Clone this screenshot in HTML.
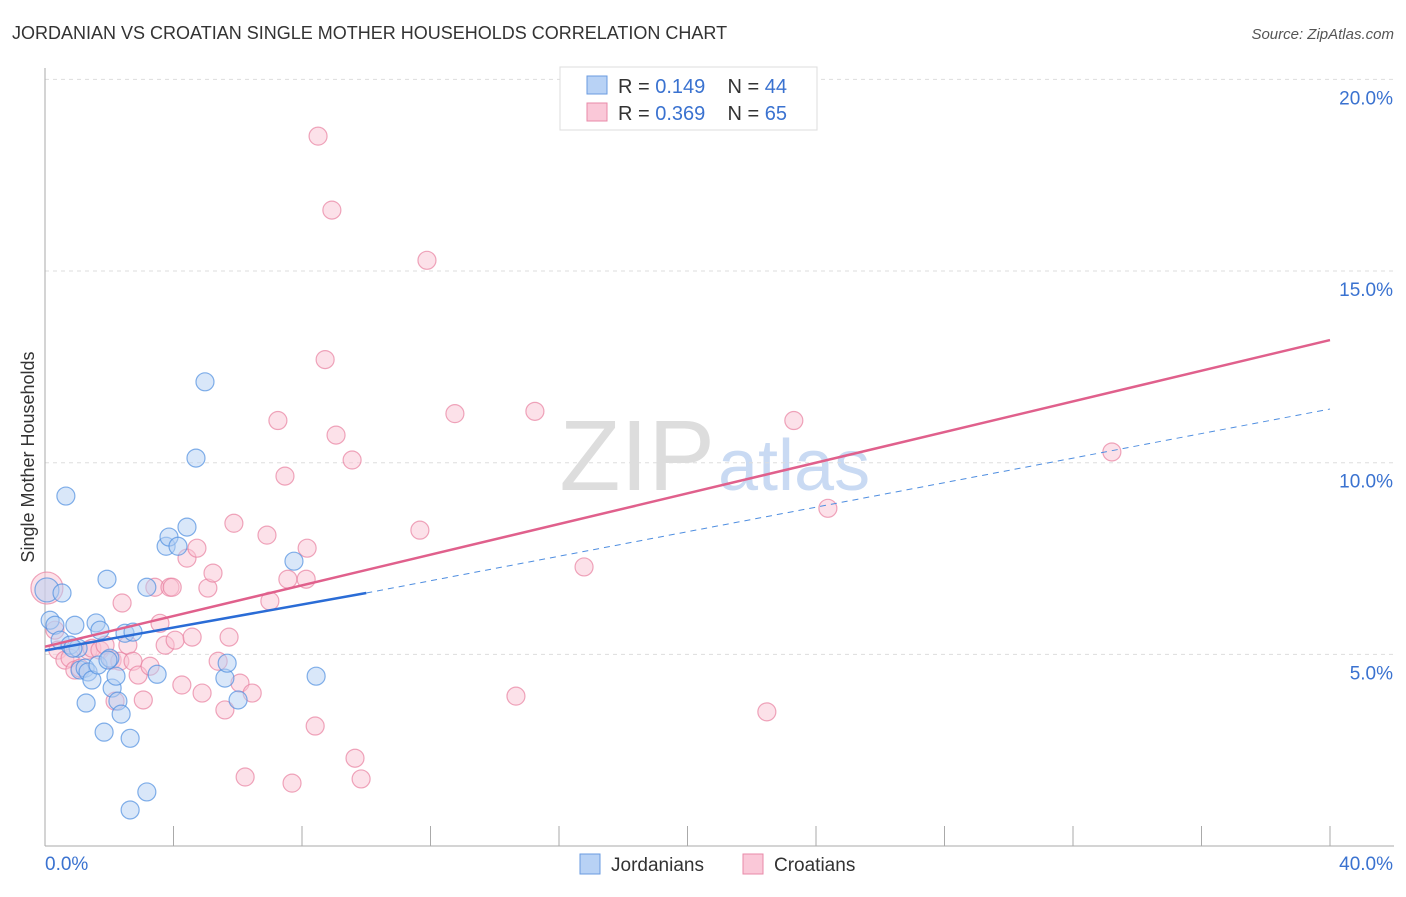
<!DOCTYPE html>
<html><head><meta charset="utf-8"><style>
body{margin:0;background:#fff;font-family:"Liberation Sans",sans-serif;}
svg text{font-family:"Liberation Sans",sans-serif;}
</style></head><body>
<svg id="chart" width="1406" height="892" viewBox="0 0 1406 892" xmlns="http://www.w3.org/2000/svg">
<text x="12" y="39" font-size="18" fill="#333">JORDANIAN VS CROATIAN SINGLE MOTHER HOUSEHOLDS CORRELATION CHART</text>
<text x="1394" y="39" font-size="15" fill="#555" font-style="italic" text-anchor="end">Source: ZipAtlas.com</text>
<text x="715" y="490" font-size="100" fill="#ddd" text-anchor="end" font-family="Liberation Serif">ZIP</text>
<text x="718" y="490" font-size="72" fill="#c9daf3">atlas</text>
<g id="grid"></g>
<g id="axes"></g>
<g id="points"></g>
<g id="trends"></g>
<text transform="translate(34,457) rotate(-90)" font-size="18" fill="#333" text-anchor="middle">Single Mother Households</text>
<g>
<rect x="560" y="67" width="257" height="63" fill="#fff" stroke="#ddd"/>
<rect x="587" y="76" width="20" height="18" fill="#b8d2f5" stroke="#6a9be0"/>
<text x="618" y="93" font-size="20" fill="#333" xml:space="preserve">R = <tspan fill="#3a72d0">0.149</tspan>    N = <tspan fill="#3a72d0">44</tspan></text>
<rect x="587" y="103" width="20" height="18" fill="#fac8d8" stroke="#e88aa8"/>
<text x="618" y="120" font-size="20" fill="#333" xml:space="preserve">R = <tspan fill="#3a72d0">0.369</tspan>    N = <tspan fill="#3a72d0">65</tspan></text>
</g>
<g>
<rect x="580" y="854" width="20" height="20" fill="#b8d2f5" stroke="#6a9be0"/>
<text x="611" y="871" font-size="19" fill="#333">Jordanians</text>
<rect x="743" y="854" width="20" height="20" fill="#fac8d8" stroke="#e88aa8"/>
<text x="774" y="871" font-size="19" fill="#333">Croatians</text>
</g>
</svg>
<script>
const yTicks=[5,10,15,20];
const yTickLabels=["5.0%","10.0%","15.0%","20.0%"];
const xTickLabels=["0.0%","40.0%"];
const jordX=[0.06,0.16,0.31,0.53,0.65,0.47,0.78,0.93,1.03,1.09,1.25,1.34,1.46,1.59,1.71,1.65,1.84,1.93,2.02,2.09,2.21,2.27,2.37,2.49,2.65,2.74,3.17,3.17,2.65,3.49,3.77,3.86,4.14,4.42,4.70,4.98,5.60,5.67,6.01,7.75,8.44,1.28,0.87,1.96];
const jordY=[6.68,5.89,5.76,6.6,9.13,5.37,5.24,5.76,5.16,4.59,4.64,4.54,4.33,5.82,5.63,4.72,2.97,6.96,4.9,4.12,4.43,3.78,3.44,5.55,2.81,5.58,6.75,1.41,0.94,4.48,7.82,8.06,7.82,8.32,10.12,12.11,4.38,4.77,3.81,7.43,4.43,3.73,5.16,4.85];
const croX=[0.06,0.31,0.40,0.62,0.78,0.93,1.09,1.34,1.46,1.71,1.87,2.09,2.18,2.33,2.40,2.58,2.74,2.90,3.06,3.27,3.42,3.58,3.74,3.89,4.05,3.96,4.26,4.42,4.58,4.73,4.89,5.07,5.23,5.39,5.60,5.73,5.88,6.07,6.23,6.45,6.91,7.00,7.25,7.47,7.56,7.69,8.13,8.16,8.41,8.50,8.72,8.93,9.06,9.56,9.65,9.84,11.67,11.89,12.76,14.66,15.25,16.78,22.47,23.31,24.37,33.21];
const croY=[6.73,5.63,5.11,4.85,4.9,4.59,4.64,5.11,5.16,5.11,5.24,4.85,3.78,4.82,6.34,5.24,4.82,4.46,3.81,4.69,6.75,5.81,5.24,6.75,5.37,6.75,4.2,7.51,5.45,7.77,3.99,6.73,7.12,4.82,3.55,5.45,8.42,4.25,1.8,3.99,8.11,6.39,11.1,9.65,6.96,1.64,6.96,7.77,3.13,18.52,12.69,16.59,10.72,10.07,2.29,1.75,8.24,15.28,11.28,3.91,11.34,7.28,3.5,11.1,8.81,10.28];
const jordTrend=[[0,5.1],[10,6.6],[40,11.4]];
const croTrend=[[0,5.2],[40,13.2]];
const X0=45,X1=1330,Y0=846,PXY=38.33;
const sx=v=>X0+(X1-X0)*v/40;
const sy=v=>Y0-v*PXY;
const NS="http://www.w3.org/2000/svg";
function mk(tag,attrs,parent){const e=document.createElementNS(NS,tag);for(const k in attrs)e.setAttribute(k,attrs[k]);document.getElementById(parent).appendChild(e);return e;}
yTicks.forEach((t,i)=>{
  const g=mk('line',{x1:X0,x2:1394,y1:sy(t),y2:sy(t),stroke:'#ddd','stroke-dasharray':'4,4'},'grid');
  
  
  const l=mk('text',{x:1393,y:sy(t)+25,'font-size':19,fill:'#3a72d0','text-anchor':'end'},'axes');
  l.textContent=yTickLabels[i];
  
  
});
const ax=mk('line',{x1:X0,x2:X0,y1:68,y2:Y0,stroke:'#aaa'},'axes');


const bx=mk('line',{x1:X0,x2:1394,y1:Y0,y2:Y0,stroke:'#aaa'},'axes');


for(let i=1;i<=10;i++){
  const t=mk('line',{x1:sx(i*4),x2:sx(i*4),y1:Y0-20,y2:Y0,stroke:'#aaa'},'axes');
  
  
}
[[0,'start',45],[40,'end',1393]].forEach((d,i)=>{
  const l=mk('text',{x:d[2],y:870,'font-size':19,fill:'#3a72d0','text-anchor':d[1]},'axes');
  l.textContent=xTickLabels[i];
  
  
});
function pts(xs,ys,fill,stroke,name){
  xs.forEach((x,i)=>{
    const r=i===0?(name==='croatian-point'?16:12):9;
    const c=mk('circle',{cx:sx(x),cy:sy(ys[i]),r:r,fill:fill,'fill-opacity':0.5,stroke:stroke,'stroke-opacity':0.7,'stroke-width':1.2},'points');
    
    
  });
}
pts(croX,croY,'#f9c3d4','#e8809f','croatian-point');
pts(jordX,jordY,'#b3cff3','#4f8ee0','jordanian-point');
const j1=mk('line',{x1:sx(jordTrend[0][0]),y1:sy(jordTrend[0][1]),x2:sx(jordTrend[1][0]),y2:sy(jordTrend[1][1]),stroke:'#2a6cd6','stroke-width':2.5},'trends');


const j2=mk('line',{x1:sx(jordTrend[1][0]),y1:sy(jordTrend[1][1]),x2:sx(jordTrend[2][0]),y2:sy(jordTrend[2][1]),stroke:'#4f8ee0','stroke-width':1,'stroke-dasharray':'6,5'},'trends');


const c1=mk('line',{x1:sx(croTrend[0][0]),y1:sy(croTrend[0][1]),x2:sx(croTrend[1][0]),y2:sy(croTrend[1][1]),stroke:'#e0608c','stroke-width':2.5},'trends');


</script>
</body></html>
